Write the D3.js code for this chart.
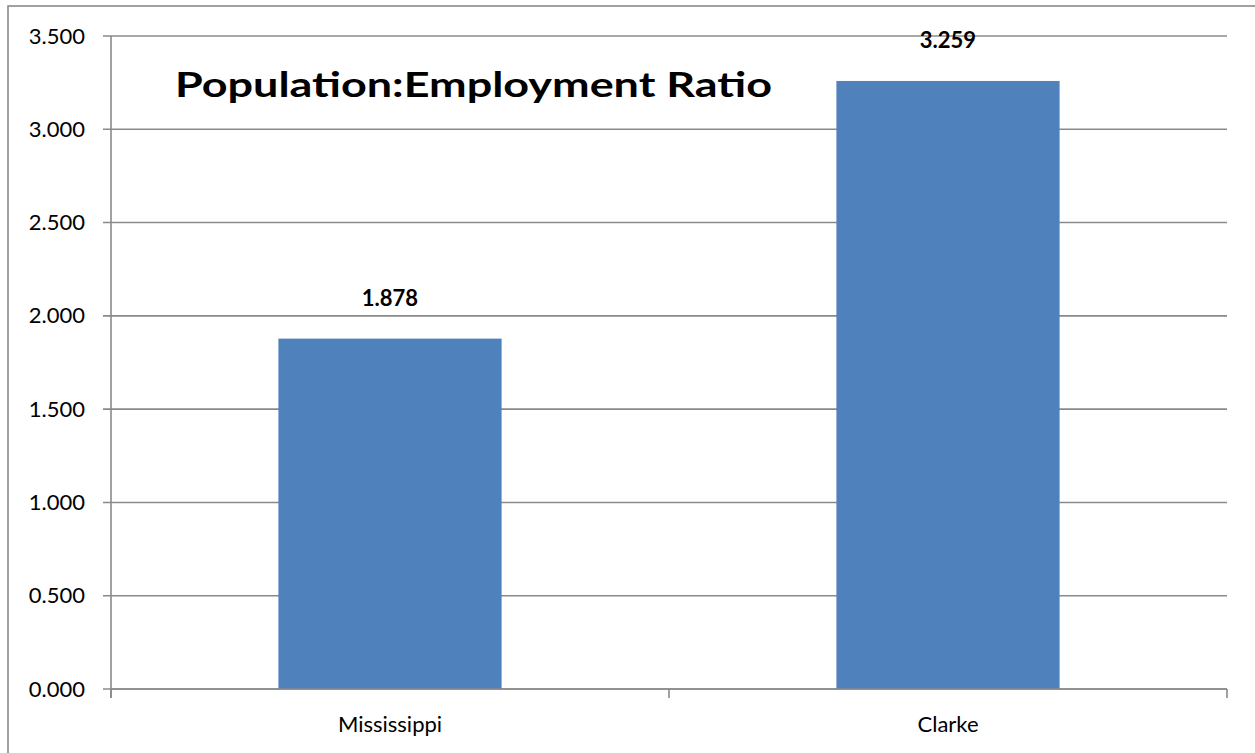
<!DOCTYPE html>
<html><head><meta charset="utf-8">
<script src="https://cdn.jsdelivr.net/npm/d3@7"></script>
<style>body{margin:0;background:#fff;}svg{display:block;font-family:Lato,"Open Sans",sans-serif;}</style>
</head><body>
<script>
const categories = ["Mississippi", "Clarke"];
const values = [1.878, 3.259];
const yTicks = [0, 0.5, 1, 1.5, 2, 2.5, 3, 3.5];
const title = "Population:Employment Ratio";

const W = 1255, H = 753;
const svg = d3.select("body").append("svg").attr("width", W).attr("height", H);
const L = 111, R = 1227, T = 36, B = 689;

svg.append("rect").attr("x", 8).attr("y", 6).attr("width", 1300).attr("height", 800)
  .attr("fill", "none").attr("stroke", "#8a8a8a").attr("stroke-width", 1.6);

const x = d3.scaleBand().domain(categories).range([L, R]).paddingInner(0.6).paddingOuter(0.3);
const y = d3.scaleLinear().domain([0, 3.5]).range([B, T]);

// gridlines
svg.append("g").selectAll("line").data(yTicks).join("line")
  .attr("x1", L - 8).attr("x2", R).attr("y1", d => y(d)).attr("y2", d => y(d))
  .attr("stroke", "#8a8a8a").attr("stroke-width", 1.6);

// y labels
svg.append("g").selectAll("text").data(yTicks).join("text")
  .attr("x", 85).attr("y", d => y(d) + 7.5).attr("text-anchor", "end")
  .attr("font-size", 22).attr("fill", "#000").text(d => d3.format(".3f")(d));

// bars
svg.append("g").selectAll("rect").data(values).join("rect")
  .attr("x", (d, i) => x(categories[i])).attr("width", x.bandwidth())
  .attr("y", d => y(d)).attr("height", d => B - y(d)).attr("fill", "#4F81BD");

// value labels
svg.append("g").selectAll("text").data(values).join("text")
  .attr("x", (d, i) => x(categories[i]) + x.bandwidth() / 2).attr("y", d => y(d) - 33)
  .attr("text-anchor", "middle").attr("font-size", 22).attr("font-weight", "bold")
  .text(d => d3.format(".3f")(d));

// axes lines
svg.append("line").attr("x1", L).attr("x2", L).attr("y1", T).attr("y2", B + 9)
  .attr("stroke", "#8a8a8a").attr("stroke-width", 1.6);
svg.append("line").attr("x1", L).attr("x2", R).attr("y1", B).attr("y2", B)
  .attr("stroke", "#8a8a8a").attr("stroke-width", 1.6);
const catTicks = [L, (L + R) / 2, R];
svg.append("g").selectAll("line").data(catTicks).join("line")
  .attr("x1", d => d).attr("x2", d => d).attr("y1", B).attr("y2", B + 9)
  .attr("stroke", "#8a8a8a").attr("stroke-width", 1.6);

// category labels
svg.append("g").selectAll("text").data(categories).join("text")
  .attr("x", d => x(d) + x.bandwidth() / 2).attr("y", 732).attr("text-anchor", "middle")
  .attr("font-size", 22).text(d => d);

// title
svg.append("text").attr("x", 175).attr("y", 97).attr("font-size", 34).attr("font-weight", "bold")
  .attr("textLength", 597).attr("lengthAdjust", "spacingAndGlyphs").text(title);
</script>
</body></html>
